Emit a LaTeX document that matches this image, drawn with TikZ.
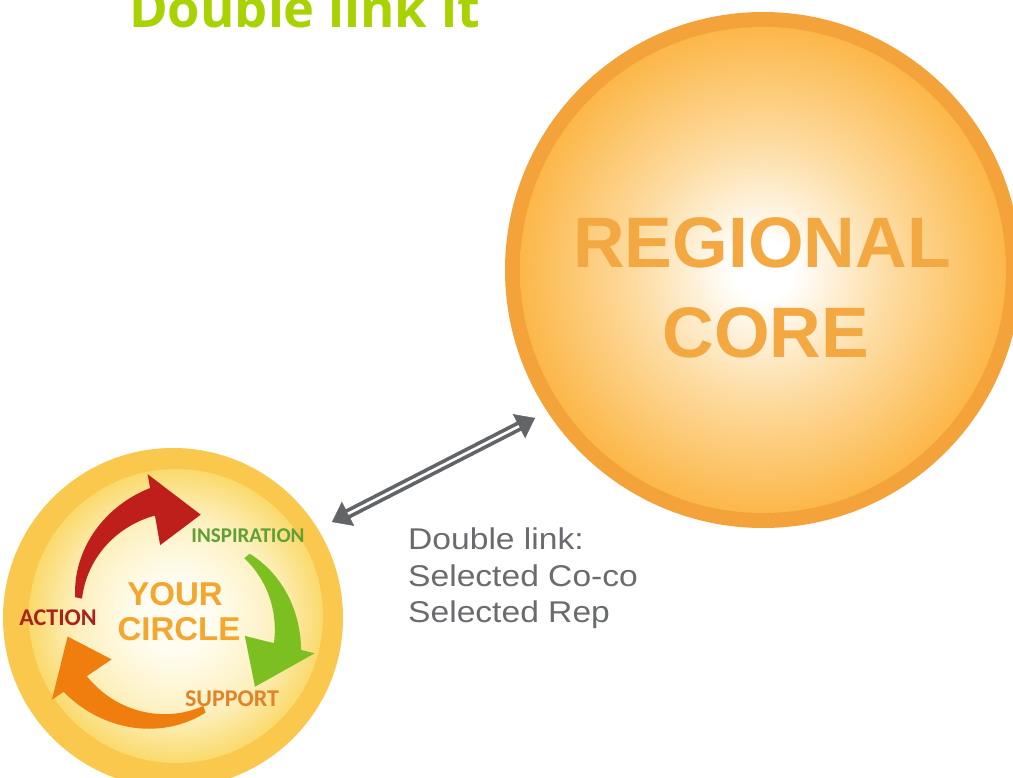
\documentclass[tikz,border=0pt]{standalone}
\usepackage{fontspec}
\setmainfont{Liberation Sans}
\newfontfamily\titlefont{Open Sans}
\newfontfamily\labelfont{Carlito}
\newfontfamily\graytextfont{Liberation Sans}[FakeStretch=1.12]
\usetikzlibrary{arrows.meta}

\definecolor{titlegreen}{HTML}{A9D201}
\definecolor{bigring}{HTML}{F4A33A}
\definecolor{bigedge}{HTML}{FCB749}
\definecolor{bigmid}{HTML}{FDDCA2}
\definecolor{coretext}{HTML}{F3A842}
\definecolor{smallring}{HTML}{F9C84D}
\definecolor{smalledge}{HTML}{FADA6C}
\definecolor{smallmid}{HTML}{FDF0BE}
\definecolor{smallcenter}{HTML}{FFFDF2}
\definecolor{arrred}{HTML}{BF1F1A}
\definecolor{arrgreen}{HTML}{7BC020}
\definecolor{arrorange}{HTML}{EF7E0E}
\definecolor{lblgreen}{HTML}{5F9F34}
\definecolor{lblred}{HTML}{A9221C}
\definecolor{lblorange}{HTML}{E2832A}
\definecolor{circletext}{HTML}{F4A62E}
\definecolor{linkgray}{HTML}{626468}
\definecolor{txtgray}{HTML}{6A6B6E}

\pgfdeclareradialshading{bigglow}{\pgfpoint{0bp}{0bp}}{color(0bp)=(white); color(3bp)=(white); color(13bp)=(bigmid); color(25bp)=(bigedge); color(50bp)=(bigedge)}
\pgfdeclareradialshading{smallglow}{\pgfpoint{0bp}{0bp}}{color(0bp)=(smallcenter); color(6bp)=(smallcenter); color(17bp)=(smallmid); color(25bp)=(smalledge); color(50bp)=(smalledge)}

% #1 colour, #2 tail angle, #3 head base angle, #4 tip angle
\newcommand{\swooshArrow}[4]{%
  \fill[#1] plot[domain=#2:#3, samples=30, variable=\t]
      ({(100+32*(#2-\t)/(#2-#3))*cos(\t)}, {(100+32*(#2-\t)/(#2-#3))*sin(\t)})
    -- (#3:146) -- (#4:107) -- (#3:74)
    -- plot[domain=#3:#2, samples=30, variable=\t]
      ({(93+11*(#2-\t)/(#2-#3))*cos(\t)}, {(93+11*(#2-\t)/(#2-#3))*sin(\t)})
    -- cycle;}

\begin{document}
\begin{tikzpicture}[x=1pt,y=-1pt,
  titlestyle/.style={font=\titlefont\bfseries\fontsize{52.4}{52.4}\selectfont, text=titlegreen, inner sep=0pt, anchor=base west},
  corestyle/.style={font=\bfseries\fontsize{71.5}{71.5}\selectfont, text=coretext, inner sep=0pt, anchor=base},
  circlestyle/.style={font=\bfseries\fontsize{33}{33}\selectfont, text=circletext, inner sep=0pt, anchor=base},
  cyclelabel/.style={font=\labelfont\bfseries\fontsize{#1}{#1}\selectfont, inner sep=0pt, anchor=base},
  linktext/.style={font=\graytextfont\fontsize{30}{30}\selectfont, text=txtgray, inner sep=0pt, anchor=base west}
]
\useasboundingbox (0,0) rectangle (1013,778);
\clip (0,0) rectangle (1013,778);
\fill[white] (0,0) rectangle (1013,778);

% title
\node[titlestyle] (title) at (129,28) {Double link it};

% regional core circle
\fill[bigring] (763,270) circle[radius=258pt];
\shade[shading=bigglow] (763,270) circle[radius=243pt];
\node[corestyle] (regional) at (762,268) {REGIONAL};
\node[corestyle] (core) at (766,357) {CORE};

% your circle
\fill[smallring] (173,618) circle[radius=170pt];
\shade[shading=smallglow] (176,616) circle[radius=147pt];
\begin{scope}[shift={(173,618)}, yscale=-1]
  \swooshArrow{arrred}{168}{100}{75}
  \swooshArrow{arrgreen}{40}{-14}{-40}
  \swooshArrow{arrorange}{-71}{-146}{-170}
\end{scope}
\node[circlestyle] (your) at (175,605) {YOUR};
\node[circlestyle] (circle) at (179,640) {CIRCLE};
\node[cyclelabel=21, text=lblgreen] (inspiration) at (248,542) {INSPIRATION};
\node[cyclelabel=24, text=lblred] (action) at (58,625) {ACTION};
\node[cyclelabel=24, text=lblorange] (support) at (232,706) {SUPPORT};

% double link
\coordinate (linkA) at (332,522);
\coordinate (linkB) at (535,418);
\draw[linkgray, line width=0.5pt, {Triangle[length=18pt,width=27pt]}-{Triangle[length=18pt,width=27pt]}] (linkA) -- (linkB);
\draw[linkgray, line width=10pt, shorten <=15pt, shorten >=15pt] (linkA) -- (linkB);
\draw[white, line width=2.6pt, shorten <=18pt, shorten >=18pt] (linkA) -- (linkB);

\node[linktext] (l1) at (408,549) {Double link:};
\node[linktext] (l2) at (408,586) {Selected Co-co};
\node[linktext] (l3) at (408,622) {Selected Rep};
\end{tikzpicture}
\end{document}
